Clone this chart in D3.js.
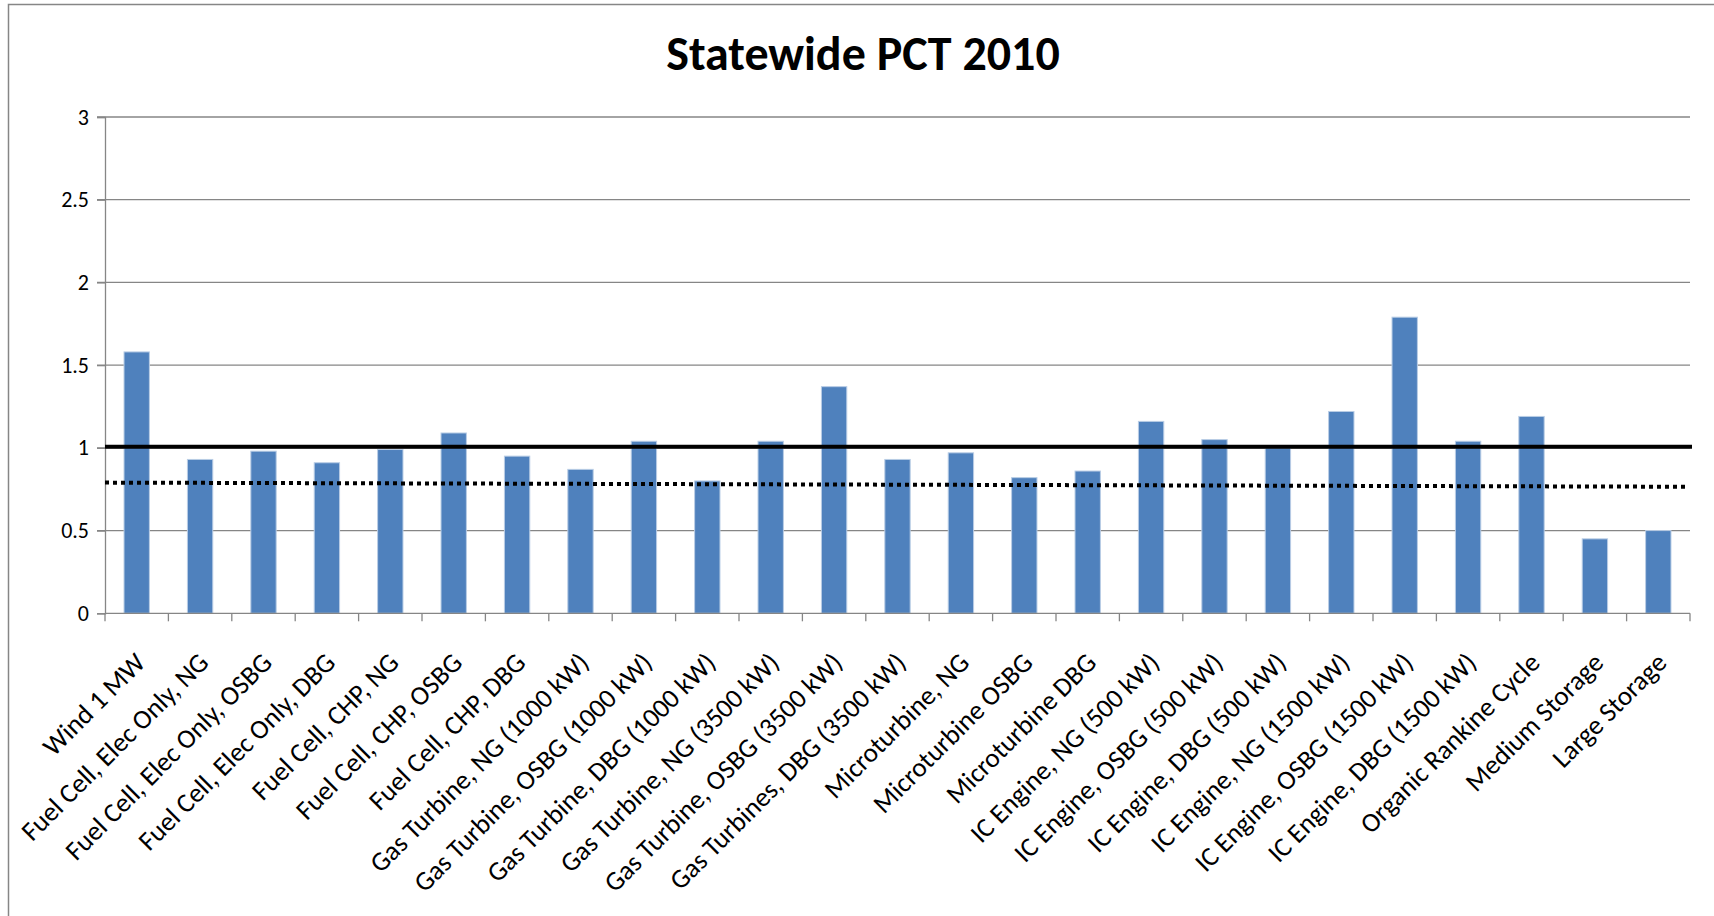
<!DOCTYPE html>
<html>
<head>
<meta charset="utf-8">
<script src="https://cdn.jsdelivr.net/npm/d3@7"></script>
<style>
  body { margin: 0; background: #fff; }
  text { font-family: Carlito, Calibri, Lato, sans-serif; fill: #000; }
</style>
</head>
<body>
<div id="chart"></div>
<script>
(function() {
  var width = 1714, height = 916;

  // data
  var categories = ["Wind 1 MW", "Fuel Cell, Elec Only, NG", "Fuel Cell, Elec Only, OSBG",
    "Fuel Cell, Elec Only, DBG", "Fuel Cell, CHP, NG", "Fuel Cell, CHP, OSBG", "Fuel Cell, CHP, DBG",
    "Gas Turbine, NG (1000 kW)", "Gas Turbine, OSBG (1000 kW)", "Gas Turbine, DBG (1000 kW)",
    "Gas Turbine, NG (3500 kW)", "Gas Turbine, OSBG (3500 kW)", "Gas Turbines, DBG (3500 kW)",
    "Microturbine, NG", "Microturbine OSBG", "Microturbine DBG", "IC Engine, NG (500 kW)",
    "IC Engine, OSBG (500 kW)", "IC Engine, DBG (500 kW)", "IC Engine, NG (1500 kW)",
    "IC Engine, OSBG (1500 kW)", "IC Engine, DBG (1500 kW)", "Organic Rankine Cycle",
    "Medium Storage", "Large Storage"];
  var pct = [1.58, 0.93, 0.98, 0.91, 0.99, 1.09, 0.95, 0.87, 1.04, 0.80, 1.04, 1.37, 0.93,
    0.97, 0.82, 0.86, 1.16, 1.05, 1.00, 1.22, 1.79, 1.04, 1.19, 0.45, 0.50];
  var yTicks = [0, 0.5, 1, 1.5, 2, 2.5, 3];
  var solidLine = [1.007, 1.007];   // start, end
  var dottedLine = [0.79, 0.765];   // start, end

  var svg = d3.select("#chart")
    .append("svg")
    .attr("width", width)
    .attr("height", height);

  svg.append("rect")
    .attr("x", 0).attr("y", 0)
    .attr("width", width).attr("height", height)
    .attr("fill", "#fff");

  // chart area border (runs off the right and bottom edges)
  svg.append("rect")
    .attr("x", 8.5).attr("y", 4.5)
    .attr("width", 1760).attr("height", 960)
    .attr("fill", "none")
    .attr("stroke", "#868686")
    .attr("stroke-width", 1.5);

  var left = 105, right = 1690, top = 117, bottom = 613.3;

  var xScale = d3.scaleBand().domain(categories).range([left, right])
    .paddingInner(0.6).paddingOuter(0.3);
  var yScale = d3.scaleLinear().domain([0, 3]).range([bottom, top]);

  // gridlines
  svg.selectAll(".grid")
    .data(yTicks.filter(function(d) { return d > 0; }))
    .enter().append("line")
    .attr("class", "grid")
    .attr("x1", left - 8).attr("x2", right)
    .attr("y1", function(d) { return yScale(d); })
    .attr("y2", function(d) { return yScale(d); })
    .attr("stroke", "#868686")
    .attr("stroke-width", 1.3);

  // y axis
  var yAxis = d3.axisLeft(yScale)
    .tickValues(yTicks)
    .tickFormat(function(d) { return String(d); })
    .tickSize(8)
    .tickPadding(8);
  var yg = svg.append("g")
    .attr("class", "y-axis")
    .attr("transform", "translate(" + left + ",0)")
    .call(yAxis);
  yg.select(".domain").attr("stroke", "#868686").attr("stroke-width", 1.3);
  yg.selectAll(".tick line").attr("stroke", "#868686").attr("stroke-width", 1.3);
  yg.selectAll(".tick text")
    .style("font-size", "22px")
    .style("font-family", "Carlito, Calibri, Lato, sans-serif")
    .attr("fill", "#000");

  // bars
  svg.selectAll(".bar")
    .data(pct)
    .enter().append("rect")
    .attr("class", "bar")
    .attr("x", function(d, i) { return xScale(categories[i]); })
    .attr("width", xScale.bandwidth())
    .attr("y", function(d) { return yScale(d); })
    .attr("height", function(d) { return yScale(0) - yScale(d); })
    .attr("fill", "#4f81bd")
    .attr("stroke", "#b9cde5")
    .attr("stroke-width", 1);

  // x axis: line + ticks on category boundaries
  var step = xScale.step();
  var edgeOffset = (step - xScale.bandwidth()) / 2;
  var boundaries = categories.map(function(c) { return xScale(c) - edgeOffset; });
  boundaries.push(right);

  svg.append("line")
    .attr("x1", left).attr("x2", right)
    .attr("y1", bottom).attr("y2", bottom)
    .attr("stroke", "#868686")
    .attr("stroke-width", 1.3);

  svg.selectAll(".xtick")
    .data(boundaries)
    .enter().append("line")
    .attr("class", "xtick")
    .attr("x1", function(d) { return d; })
    .attr("x2", function(d) { return d; })
    .attr("y1", bottom).attr("y2", bottom + 8)
    .attr("stroke", "#868686")
    .attr("stroke-width", 1.3);

  var xAxis = d3.axisBottom(xScale).tickSize(0);
  var xg = svg.append("g")
    .attr("class", "x-axis")
    .attr("transform", "translate(0," + bottom + ")")
    .call(xAxis);
  xg.select(".domain").remove();
  xg.selectAll(".tick text")
    .attr("x", 0).attr("y", 0).attr("dy", 0)
    .attr("transform", "translate(10,51) rotate(-45)")
    .style("text-anchor", "end")
    .style("font-size", "27px")
    .style("font-family", "Carlito, Calibri, Lato, sans-serif")
    .attr("fill", "#000");

  // reference lines
  var line = d3.line()
    .x(function(d) { return d[0]; })
    .y(function(d) { return yScale(d[1]); });

  svg.append("path")
    .attr("d", line([[left, solidLine[0]], [right + 2, solidLine[1]]]))
    .attr("fill", "none")
    .attr("stroke", "#000")
    .attr("stroke-width", 4);

  svg.append("path")
    .attr("d", line([[left, dottedLine[0]], [right - 4, dottedLine[1]]]))
    .attr("fill", "none")
    .attr("stroke", "#000")
    .attr("stroke-width", 4)
    .attr("stroke-dasharray", "4,4");

  // title
  svg.append("text")
    .attr("x", 863)
    .attr("y", 70)
    .style("text-anchor", "middle")
    .style("font-size", "48px")
    .style("font-weight", "bold")
    .text("Statewide PCT 2010");
})();
</script>
</body>
</html>
